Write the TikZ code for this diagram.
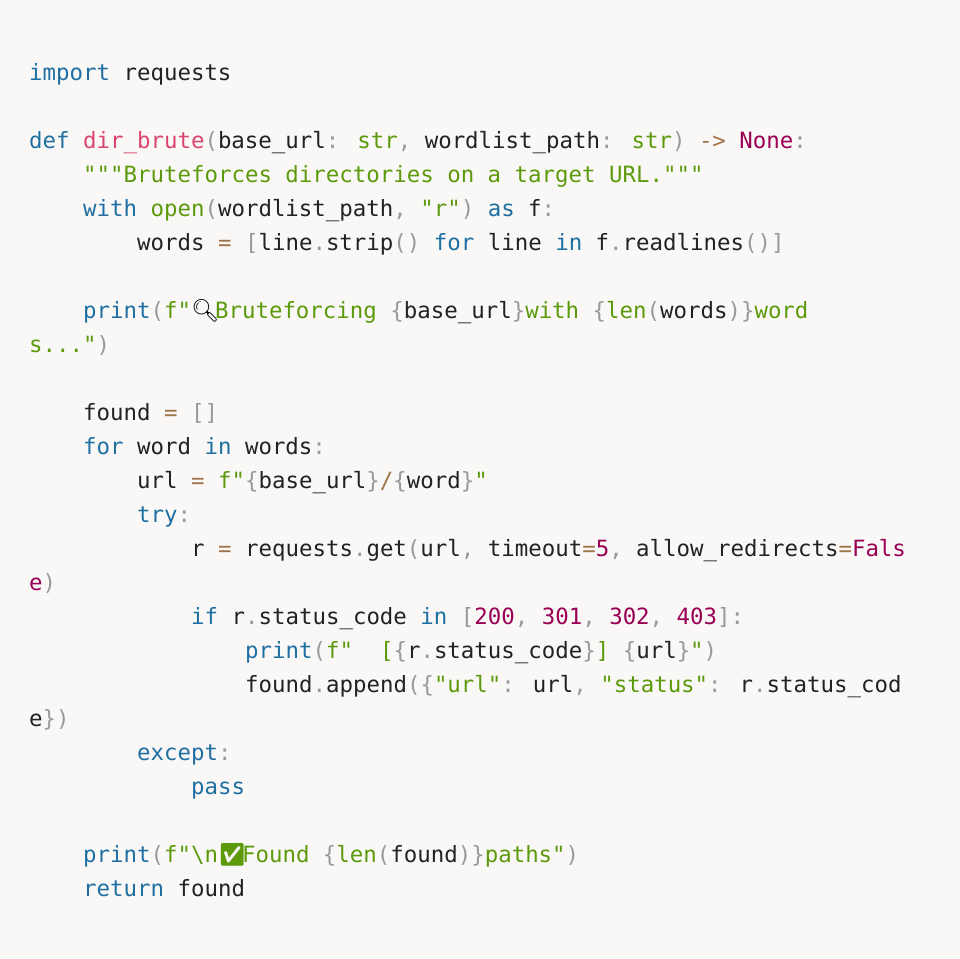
\documentclass[tikz,border=0pt]{standalone}
\usepackage{fontspec}
\newfontfamily\codefont{DejaVu Sans Mono}
\newfontfamily\emofont{Noto Emoji}
\definecolor{bgpaper}{HTML}{F9F8F6}
\definecolor{kwblue}{HTML}{1F6FA3}
\definecolor{fnpink}{HTML}{DA4570}
\definecolor{strgreen}{HTML}{5C9A0C}
\definecolor{nummaroon}{HTML}{990055}
\definecolor{opbrown}{HTML}{A0734A}
\definecolor{pungray}{HTML}{999999}
\definecolor{plain}{HTML}{222222}
\newcommand\kw[1]{\textcolor{kwblue}{#1}}
\newcommand\fn[1]{\textcolor{fnpink}{#1}}
\newcommand\st[1]{\textcolor{strgreen}{#1}}
\newcommand\nm[1]{\textcolor{nummaroon}{#1}}
\newcommand\op[1]{\textcolor{opbrown}{#1}}
\newcommand\pu[1]{\textcolor{pungray}{#1}}
\newcommand\emo[2]{\makebox[24pt][l]{\emofont\textcolor{#1}{#2}}}
\newcommand\at[2]{({(29+13.5*#1)*1pt},{-(80+34*#2)*1pt})}
\tikzset{
  codeline/.style={anchor=base west, inner sep=0pt, text=plain,
    font=\codefont\fontsize{22.4pt}{34pt}\selectfont}
}
\begin{document}
\begin{tikzpicture}
  \fill[bgpaper] (0,0) rectangle (960pt,-958pt);
  \useasboundingbox (0,0) rectangle (960pt,-958pt);
  % source lines, one node per printed row
  \node[codeline] (l0) at \at{0}{0} {\kw{import} requests};
  \node[codeline] (l2) at \at{0}{2} {\kw{def} \fn{dir\_brute}\pu{(}base\_url\pu{:} \st{str}\pu{,} wordlist\_path\pu{:} \st{str}\pu{)} \op{->} \nm{None}\pu{:}};
  \node[codeline] (l3) at \at{4}{3} {\st{"""Bruteforces directories on a target URL."""}};
  \node[codeline] (l4) at \at{4}{4} {\kw{with} \st{open}\pu{(}wordlist\_path\pu{,} \st{"r"}\pu{)} \kw{as} f\pu{:}};
  \node[codeline] (l5) at \at{8}{5} {words \op{=} \pu{[}line\pu{.}strip\pu{()} \kw{for} line \kw{in} f\pu{.}readlines\pu{()]}};
  \node[codeline] (l7) at \at{4}{7} {\kw{print}\pu{(}\st{f"}\emo{black}{🔍}\st{ Bruteforcing }\pu{\{}base\_url\pu{\}}\st{ with }\pu{\{}\st{len}\pu{(}words\pu{)\}}\st{ word}};
  \node[codeline] (l8) at \at{0}{8} {\st{s..."}\pu{)}};
  \node[codeline] (l10) at \at{4}{10} {found \op{=} \pu{[]}};
  \node[codeline] (l11) at \at{4}{11} {\kw{for} word \kw{in} words\pu{:}};
  \node[codeline] (l12) at \at{8}{12} {url \op{=} \st{f"}\pu{\{}base\_url\pu{\}}\op{/}\pu{\{}word\pu{\}}\st{"}};
  \node[codeline] (l13) at \at{8}{13} {\kw{try}\pu{:}};
  \node[codeline] (l14) at \at{12}{14} {r \op{=} requests\pu{.}get\pu{(}url\pu{,} timeout\op{=}\nm{5}\pu{,} allow\_redirects\op{=}\nm{Fals}};
  \node[codeline] (l15) at \at{0}{15} {\nm{e}\pu{)}};
  \node[codeline] (l16) at \at{12}{16} {\kw{if} r\pu{.}status\_code \kw{in} \pu{[}\nm{200}\pu{,} \nm{301}\pu{,} \nm{302}\pu{,} \nm{403}\pu{]:}};
  \node[codeline] (l17) at \at{16}{17} {\kw{print}\pu{(}\st{f"\ \ [}\pu{\{}r\pu{.}status\_code\pu{\}}\st{] }\pu{\{}url\pu{\}}\st{"}\pu{)}};
  \node[codeline] (l18) at \at{16}{18} {found\pu{.}append\pu{(\{}\st{"url"}\pu{:} url\pu{,} \st{"status"}\pu{:} r\pu{.}status\_cod};
  \node[codeline] (l19) at \at{0}{19} {e\pu{\})}};
  \node[codeline] (l20) at \at{8}{20} {\kw{except}\pu{:}};
  \node[codeline] (l21) at \at{12}{21} {\kw{pass}};
  \node[codeline] (l23) at \at{4}{23} {\kw{print}\pu{(}\st{f"\textbackslash n}\emo{strgreen}{✅}\st{ Found }\pu{\{}\st{len}\pu{(}found\pu{)\}}\st{ paths"}\pu{)}};
  \node[codeline] (l24) at \at{4}{24} {\kw{return} found};
\end{tikzpicture}
\end{document}
